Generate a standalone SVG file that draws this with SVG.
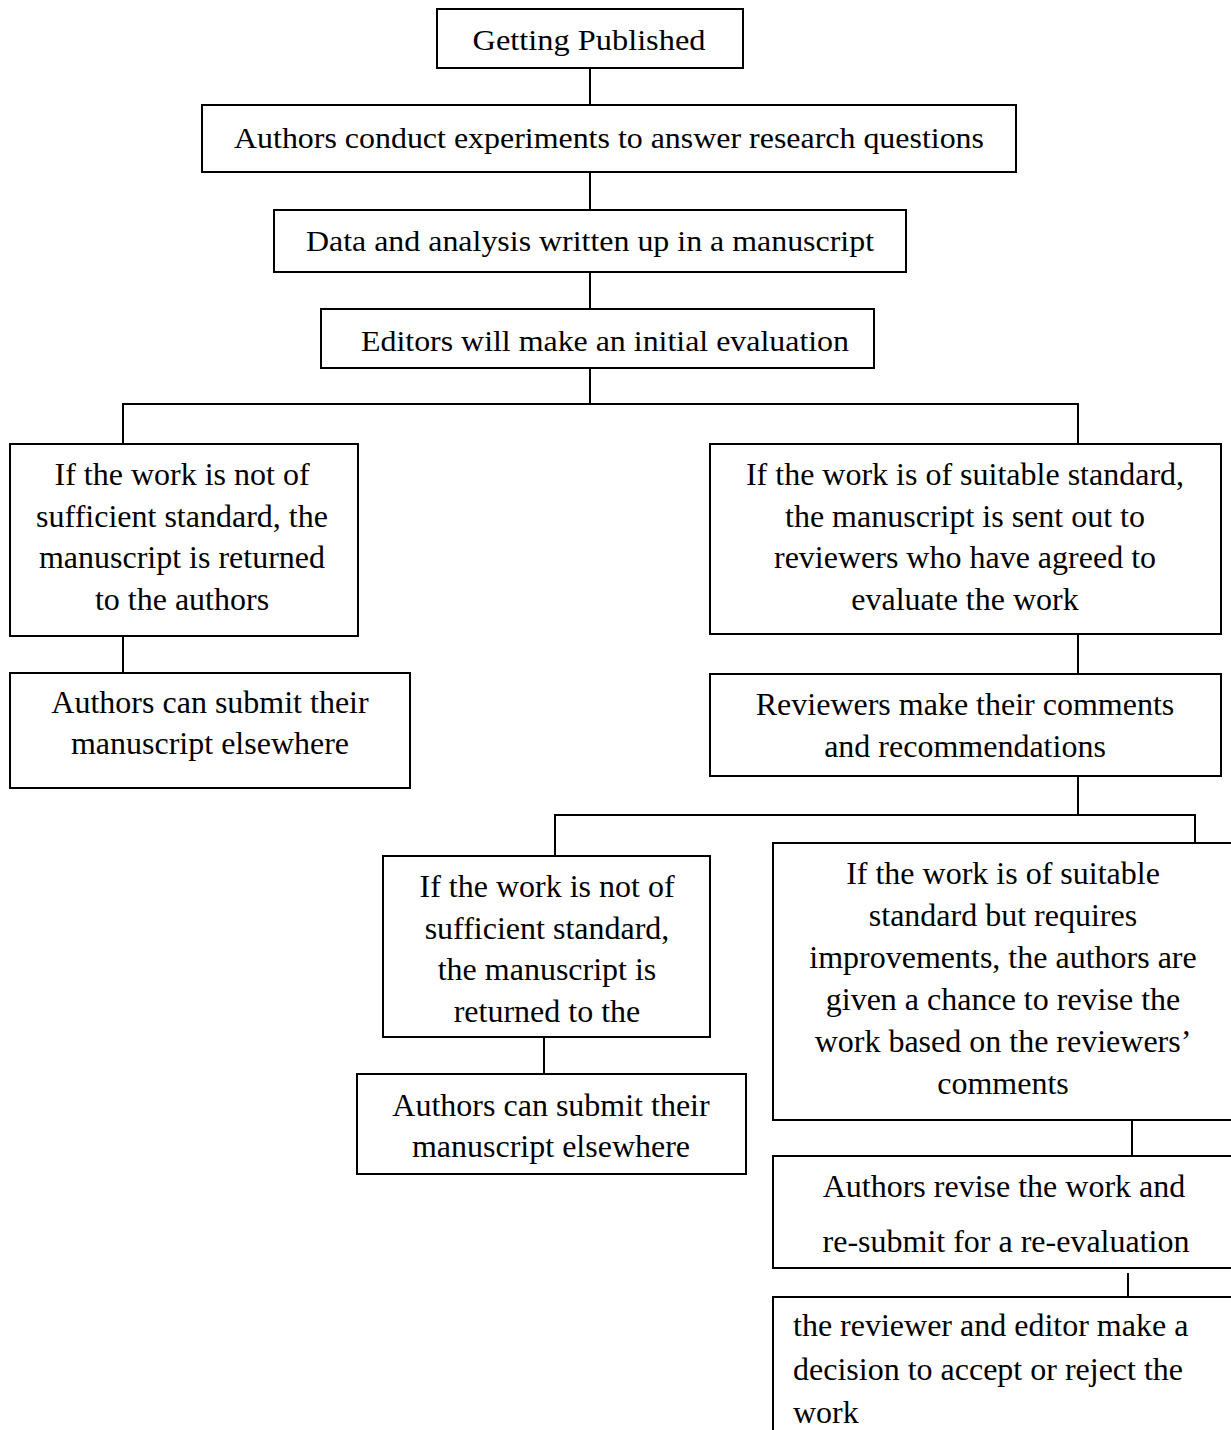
<svg xmlns="http://www.w3.org/2000/svg" width="1231" height="1430" viewBox="0 0 1231 1430">
<style>
.box{fill:#fff;stroke:#000;stroke-width:2}
.c{fill:none;stroke:#000;stroke-width:2}
text{font-family:"Liberation Serif","Times New Roman",serif;font-size:32px;fill:#000}
.m{text-anchor:middle}
.t{font-size:30px}
</style>
<rect width="1231" height="1430" fill="#fff"/>
<g id="connectors">
<path class="c" d="M590,68V105M590,172V210M590,271V309M590,368V404"/>
<path class="c" d="M123,444V404H1078V444"/>
<path class="c" d="M123,636V673M1078,634V673M1078,776V815"/>
<path class="c" d="M555,856V815H1195V843"/>
<path class="c" d="M544,1037V1074M1132,1120V1156M1128,1273V1297"/>
</g>
<g id="n1"><rect class="box" x="437" y="9" width="306" height="59"/><text class="m t" x="589" y="50" textLength="233" lengthAdjust="spacingAndGlyphs">Getting Published</text></g>
<g id="n2"><rect class="box" x="202" y="105" width="814" height="67"/><text class="m t" x="609" y="148" textLength="750" lengthAdjust="spacingAndGlyphs">Authors conduct experiments to answer research questions</text></g>
<g id="n3"><rect class="box" x="274" y="210" width="632" height="62"/><text class="m t" x="590" y="251" textLength="568" lengthAdjust="spacingAndGlyphs">Data and analysis written up in a manuscript</text></g>
<g id="n4"><rect class="box" x="321" y="309" width="553" height="59"/><text class="m t" x="605" y="351" textLength="488" lengthAdjust="spacingAndGlyphs">Editors will make an initial evaluation</text></g>
<g id="n5"><rect class="box" x="10" y="444" width="348" height="192"/>
<text class="m" x="182" y="485">If the work is not of</text>
<text class="m" x="182" y="527">sufficient standard, the</text>
<text class="m" x="182" y="568">manuscript is returned</text>
<text class="m" x="182" y="610">to the authors</text></g>
<g id="n6"><rect class="box" x="10" y="673" width="400" height="115"/>
<text class="m" x="210" y="713">Authors can submit their</text>
<text class="m" x="210" y="754">manuscript elsewhere</text></g>
<g id="n7"><rect class="box" x="710" y="444" width="511" height="190"/>
<text class="m" x="965" y="485">If the work is of suitable standard,</text>
<text class="m" x="965" y="527">the manuscript is sent out to</text>
<text class="m" x="965" y="568">reviewers who have agreed to</text>
<text class="m" x="965" y="610">evaluate the work</text></g>
<g id="n8"><rect class="box" x="710" y="674" width="511" height="102"/>
<text class="m" x="965" y="715">Reviewers make their comments</text>
<text class="m" x="965" y="757">and recommendations</text></g>
<g id="n9"><rect class="box" x="383" y="856" width="327" height="181"/>
<text class="m" x="547" y="897">If the work is not of</text>
<text class="m" x="547" y="939">sufficient standard,</text>
<text class="m" x="547" y="980">the manuscript is</text>
<text class="m" x="547" y="1022">returned to the</text></g>
<g id="n10"><rect class="box" x="357" y="1074" width="389" height="100"/>
<text class="m" x="551" y="1116">Authors can submit their</text>
<text class="m" x="551" y="1157">manuscript elsewhere</text></g>
<g id="n11"><rect class="box" x="773" y="843" width="470" height="277"/>
<text class="m" x="1003" y="884">If the work is of suitable</text>
<text class="m" x="1003" y="926">standard but requires</text>
<text class="m" x="1003" y="968">improvements, the authors are</text>
<text class="m" x="1003" y="1010">given a chance to revise the</text>
<text class="m" x="1003" y="1052">work based on the reviewers’</text>
<text class="m" x="1003" y="1094">comments</text></g>
<g id="n12"><rect class="box" x="773" y="1156" width="470" height="112"/>
<text class="m" x="1004" y="1197">Authors revise the work and</text>
<text class="m" x="1006" y="1252">re-submit for a re-evaluation</text></g>
<g id="n13"><rect class="box" x="773" y="1297" width="470" height="150"/>
<text x="793" y="1336">the reviewer and editor make a</text>
<text x="793" y="1380">decision to accept or reject the</text>
<text x="793" y="1423">work</text></g>
</svg>
